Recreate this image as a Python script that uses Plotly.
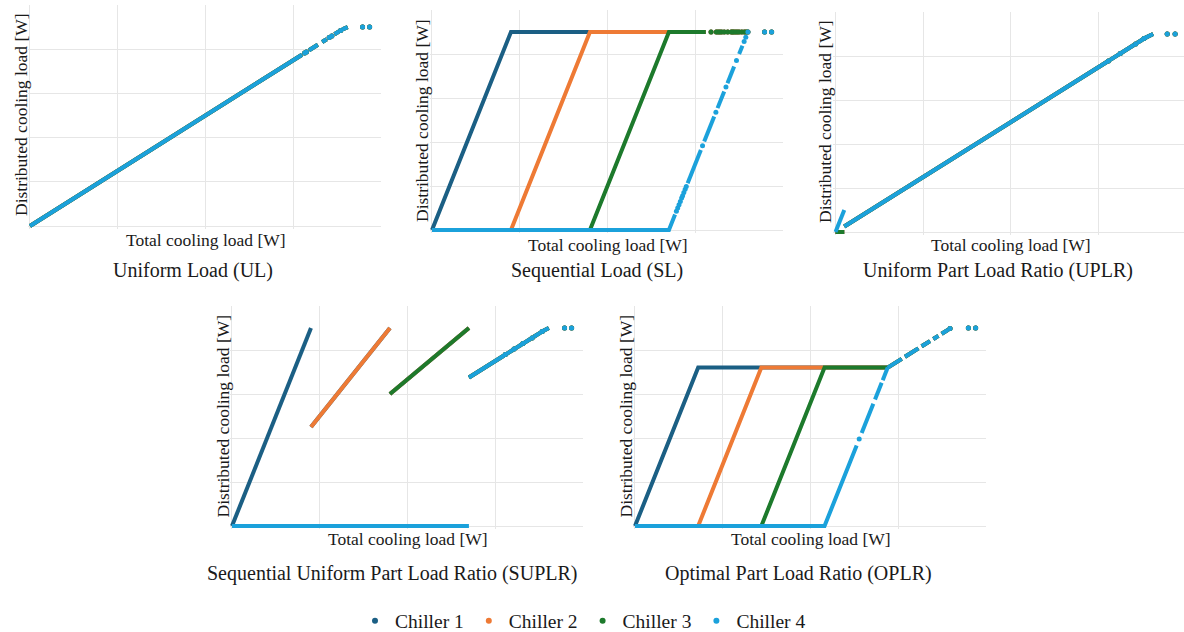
import plotly.graph_objects as go

W, H = 1184, 632

chillers = ["Chiller 1", "Chiller 2", "Chiller 3", "Chiller 4"]
colors = ["#1b5f84", "#ee7a35", "#1d7a2c", "#1ba1db"]
scheme_titles = [
    "Uniform Load (UL)",
    "Sequential Load (SL)",
    "Uniform Part Load Ratio (UPLR)",
    "Sequential Uniform Part Load Ratio (SUPLR)",
    "Optimal Part Load Ratio (OPLR)",
]
x_title = "Total cooling load [W]"
y_title = "Distributed cooling load [W]"

# ---------------- Uniform Load (all chillers identical) ----------------
ul_line_x = [0, 3100, None, 3180, 3280, None, 3330, 3380, None, 3470, 3520, None, 3560, 3590, 3620]
ul_line_y = [0, 775, None, 795, 820, None, 832.5, 845, None, 867.5, 880, None, 890, 897.5, 900]
ul_dot_x = [3130, 3150, 3410, 3440, 3540, 3790, 3870]
ul_dot_y = [782.5, 787.5, 852.5, 860, 885, 900, 900]

# ---------------- Sequential Load ----------------
sl_c1_x = [0, 900, 3120]
sl_c1_y = [0, 900, 900]
sl_c2_x = [0, 900, 1800, 3120]
sl_c2_y = [0, 0, 900, 900]
sl_c3_x = [0, 1800, 2700, 3120]
sl_c3_y = [0, 0, 900, 900]
sl_c4_x = [0, 2700, 2770, None, 2913, 3064, None, 3102, 3216, None, 3254, 3330, None, 3367, 3443, None, 3500, 3538]
sl_c4_y = [0, 0, 70, None, 213, 364, None, 402, 516, None, 554, 630, None, 667, 743, None, 800, 838]
sl_top_x = [3180, 3240, 3260, 3280, 3300, 3330, 3370, 3410, 3425, 3440, 3460, 3480, 3500, 3530, 3560, 3580, 3600, 3790, 3870]
sl_top_y = [900, 900, 900, 900, 900, 900, 900, 900, 900, 900, 900, 900, 900, 900, 900, 900, 900, 900, 900]
sl_c4_dot_x = [2785, 2800, 2815, 2830, 2845, 2856, 2870, 2885, 2898, 3083, 3235, 3350, 3470, 3557, 3576, 3600, 3790, 3870]
sl_c4_dot_y = [85, 100, 115, 130, 145, 156, 170, 185, 198, 383, 535, 650, 770, 857, 876, 900, 900, 900]

# ---------------- Uniform Part Load Ratio ----------------
uplr_start_x = [0, 100]
uplr_c123_start_y = [0, 0]
uplr_c4_start_y = [0, 100]
uplr_line_x = [100, 3100, None, 3130, 3230, None, 3260, 3400, None, 3440, 3500, None, 3530, 3580, 3620]
uplr_line_y = [25, 775, None, 782.5, 807.5, None, 815, 850, None, 860, 875, None, 882.5, 895, 900]
uplr_dot_x = [3110, 3245, 3420, 3515, 3780, 3870]
uplr_dot_y = [777.5, 811, 855, 879, 900, 900]

# ---------------- Sequential Uniform Part Load Ratio ----------------
suplr_c1_x = [0, 900, None, 900, 1800, None, 1800, 2700]
suplr_c1_y = [0, 900, None, 450, 900, None, 600, 900]
suplr_c2_x = [0, 900, None, 900, 1800, None, 1800, 2700]
suplr_c2_y = [0, 0, None, 450, 900, None, 600, 900]
suplr_c3_x = [0, 1800, None, 1800, 2700]
suplr_c3_y = [0, 0, None, 600, 900]
suplr_c4_x = [0, 2700]
suplr_c4_y = [0, 0]
suplr_line_x = [2700, 3100, None, 3130, 3200, None, 3230, 3300, None, 3330, 3400, None, 3440, 3520, None, 3550, 3610]
suplr_line_y = [675, 775, None, 782.5, 800, None, 807.5, 825, None, 832.5, 850, None, 860, 880, None, 887.5, 900]
suplr_dot_x = [3115, 3215, 3315, 3420, 3535, 3790, 3870]
suplr_dot_y = [779, 804, 829, 855, 884, 900, 900]

# ---------------- Optimal Part Load Ratio ----------------
oplr_c1_x = [0, 720, 2880]
oplr_c1_y = [0, 720, 720]
oplr_c2_x = [0, 720, 1440, 2880]
oplr_c2_y = [0, 0, 720, 720]
oplr_c3_x = [0, 1440, 2160, 2880]
oplr_c3_y = [0, 0, 720, 720]
oplr_c4_x = [0, 2160, 2526, None, 2583, 2716, None, 2735, 2811, None, 2823, 2880]
oplr_c4_y = [0, 0, 366, None, 423, 556, None, 575, 651, None, 663, 720]
oplr_c4_dot_x = [2555]
oplr_c4_dot_y = [395]
oplr_line_x = [2880, 3039, None, 3077, 3229, None, 3267, 3362, None, 3400, 3457, None, 3495, 3571]
oplr_line_y = [720, 759.75, None, 769.25, 807.25, None, 816.75, 840.5, None, 850, 864.25, None, 873.75, 892.75]
oplr_dot_x = [3590, 3799, 3882]
oplr_dot_y = [897.5, 900, 900]


def join(*parts):
    out = []
    for i, p in enumerate(parts):
        if i > 0:
            out.append(None)
        out.extend(p)
    return out


# per scheme: list of 4 chillers -> (line_x, line_y, dot_x, dot_y)
schemes = [
    [(ul_line_x, ul_line_y, ul_dot_x, ul_dot_y) for _ in range(4)],
    [
        (sl_c1_x, sl_c1_y, sl_top_x, sl_top_y),
        (sl_c2_x, sl_c2_y, sl_top_x, sl_top_y),
        (sl_c3_x, sl_c3_y, sl_top_x, sl_top_y),
        (sl_c4_x, sl_c4_y, sl_c4_dot_x, sl_c4_dot_y),
    ],
    [
        (join(uplr_start_x, uplr_line_x), join(uplr_c123_start_y, uplr_line_y), uplr_dot_x, uplr_dot_y),
        (join(uplr_start_x, uplr_line_x), join(uplr_c123_start_y, uplr_line_y), uplr_dot_x, uplr_dot_y),
        (join(uplr_start_x, uplr_line_x), join(uplr_c123_start_y, uplr_line_y), uplr_dot_x, uplr_dot_y),
        (join(uplr_start_x, uplr_line_x), join(uplr_c4_start_y, uplr_line_y), uplr_dot_x, uplr_dot_y),
    ],
    [
        (join(suplr_c1_x, suplr_line_x), join(suplr_c1_y, suplr_line_y), suplr_dot_x, suplr_dot_y),
        (join(suplr_c2_x, suplr_line_x), join(suplr_c2_y, suplr_line_y), suplr_dot_x, suplr_dot_y),
        (join(suplr_c3_x, suplr_line_x), join(suplr_c3_y, suplr_line_y), suplr_dot_x, suplr_dot_y),
        (join(suplr_c4_x, suplr_line_x), join(suplr_c4_y, suplr_line_y), suplr_dot_x, suplr_dot_y),
    ],
    [
        (join(oplr_c1_x, oplr_line_x), join(oplr_c1_y, oplr_line_y), oplr_dot_x, oplr_dot_y),
        (join(oplr_c2_x, oplr_line_x), join(oplr_c2_y, oplr_line_y), oplr_dot_x, oplr_dot_y),
        (join(oplr_c3_x, oplr_line_x), join(oplr_c3_y, oplr_line_y), oplr_dot_x, oplr_dot_y),
        (join(oplr_c4_x, oplr_line_x), join(oplr_c4_y, oplr_line_y),
         oplr_c4_dot_x + oplr_dot_x, oplr_c4_dot_y + oplr_dot_y),
    ],
]

# pixel geometry of each panel: x=0 px, x=4000 px, y=0 px, y=1000 px
panels = [
    dict(x0=30, x1=381, y0=226, y1=5, xtitle=(205.5, 240), ytitle=(21, 115), sub=(193, 270)),
    dict(x0=432, x1=783, y0=230, y1=10, xtitle=(607.5, 245), ytitle=(422, 121), sub=(596.5, 270)),
    dict(x0=835.5, x1=1186.5, y0=232, y1=12, xtitle=(1010.5, 245), ytitle=(825, 122), sub=(998, 270)),
    dict(x0=232, x1=583, y0=526, y1=306, xtitle=(407.5, 539), ytitle=(222.5, 416), sub=(392.5, 573)),
    dict(x0=635, x1=986, y0=526, y1=306, xtitle=(810.5, 539), ytitle=(625.5, 416), sub=(798.5, 573)),
]

FONT = "Liberation Serif, Times New Roman, serif"
TXT = "#1a1a1a"
GRID = "#e6e6e6"

fig = go.Figure()
layout = dict(
    width=W, height=H,
    margin=dict(l=0, r=0, t=0, b=0, autoexpand=False),
    paper_bgcolor="white", plot_bgcolor="white",
    font=dict(family=FONT, color=TXT),
    annotations=[],
)

X_LO, Y_LO = -25, -12
for i, (p, data) in enumerate(zip(panels, schemes)):
    n = "" if i == 0 else str(i + 1)
    ppx = (p["x1"] - p["x0"]) / 4000.0
    ppy = (p["y0"] - p["y1"]) / 1000.0
    xmax = min(4000.0, (W - p["x0"]) / ppx)
    dx = [max(0.0, (p["x0"] + X_LO * ppx) / W), min(1.0, (p["x0"] + xmax * ppx) / W)]
    dy = [1 - (p["y0"] - Y_LO * ppy) / H, 1 - p["y1"] / H]
    common = dict(showgrid=True, gridcolor=GRID, gridwidth=1, zeroline=False,
                  showticklabels=False, ticks="", showline=False, fixedrange=True)
    layout["xaxis" + n] = dict(domain=dx, range=[X_LO, xmax], tick0=0, dtick=1000,
                               anchor="y" + n, **common)
    layout["yaxis" + n] = dict(domain=dy, range=[Y_LO, 1000], tick0=0, dtick=200,
                               anchor="x" + n, **common)
    for c, (lx, ly, mx, my) in enumerate(data):
        fig.add_trace(go.Scatter(x=lx, y=ly, mode="lines", xaxis="x" + n, yaxis="y" + n,
                                 line=dict(color=colors[c], width=4), connectgaps=False,
                                 showlegend=False, hoverinfo="skip", legendgroup=chillers[c]))
        fig.add_trace(go.Scatter(x=mx, y=my, mode="markers", xaxis="x" + n, yaxis="y" + n,
                                 marker=dict(color=colors[c], size=5), cliponaxis=False,
                                 showlegend=False, hoverinfo="skip", legendgroup=chillers[c]))
    ax, ay = p["xtitle"]
    layout["annotations"].append(dict(text=x_title, x=ax / W, y=1 - ay / H, xref="paper", yref="paper",
                                      showarrow=False, xanchor="center", yanchor="middle",
                                      font=dict(size=17.5, family=FONT, color=TXT)))
    ax, ay = p["ytitle"]
    layout["annotations"].append(dict(text=y_title, x=ax / W, y=1 - ay / H, xref="paper", yref="paper",
                                      showarrow=False, xanchor="center", yanchor="middle", textangle=-90,
                                      font=dict(size=17.5, family=FONT, color=TXT)))
    ax, ay = p["sub"]
    layout["annotations"].append(dict(text=scheme_titles[i], x=ax / W, y=1 - ay / H, xref="paper",
                                      yref="paper", showarrow=False, xanchor="center", yanchor="middle",
                                      font=dict(size=20, family=FONT, color=TXT)))

# legend entries
for c in range(4):
    fig.add_trace(go.Scatter(x=[None], y=[None], mode="markers", name=chillers[c],
                             marker=dict(color=colors[c], size=6), legendgroup=chillers[c],
                             showlegend=True))

layout["legend"] = dict(orientation="h", x=583 / W, xanchor="center", y=1 - 621 / H, yanchor="middle",
                        font=dict(size=19.5, family=FONT, color=TXT), bgcolor="rgba(0,0,0,0)",
                        itemwidth=30, tracegroupgap=0)
fig.update_layout(**layout)
fig.write_html("out.html")
